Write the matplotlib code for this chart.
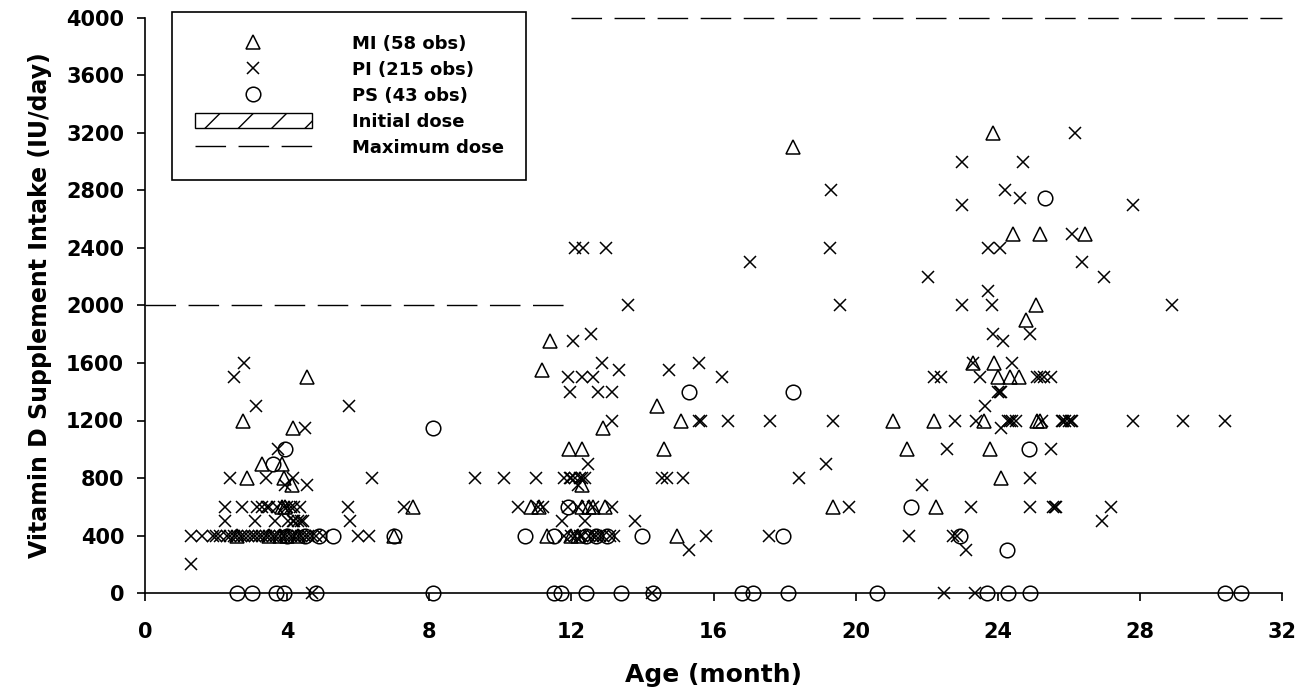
import matplotlib.pyplot as plt
from matplotlib.lines import Line2D
from matplotlib.patches import Patch

plt.rcParams['font.family'] = 'DejaVu Sans'
plt.rcParams['hatch.linewidth'] = 1.0

# MI (triangles)
mi_age = [2.76, 4.56, 4.17, 3.29, 3.86, 2.86, 3.9, 4.14, 3.86, 3.95, 7.54, 2.6, 3.5, 3.8, 4.0, 4.3, 7.0,
          11.4, 11.17, 11.93, 12.3, 14.6, 12.9, 14.4, 15.09, 10.85, 11.1, 12.3, 12.5, 12.6, 12.95, 12.3,
          11.3, 12.0, 12.2, 14.97,
          18.24, 19.37, 22.25, 21.05, 22.2, 23.6, 25.1, 25.2, 21.45, 23.78, 23.3, 23.9, 24.0, 24.35,
          24.6, 24.1, 23.87, 24.43, 25.2, 26.46, 25.08, 24.8]
mi_dose = [1200, 1500, 1150, 900, 900, 800, 800, 750, 600, 600, 600, 400, 400, 400, 400, 400, 400,
           1750, 1550, 1000, 1000, 1000, 1150, 1300, 1200, 600, 600, 600, 600, 600, 600, 750,
           400, 400, 400, 400,
           3100, 600, 600, 1200, 1200, 1200, 1200, 1200, 1000, 1000, 1600, 1600, 1500, 1500,
           1500, 800, 3200, 2500, 2500, 2500, 2000, 1900]

# PI (crosses)
pi_age = [1.3,
          1.3, 1.6, 1.9, 2.1, 2.3, 2.5, 2.7, 2.9, 3.1, 3.3, 3.5, 3.7, 3.9, 4.1, 4.3, 4.5, 4.7, 5.0, 6.0, 6.3,
          2.6, 3.0, 3.4, 3.8, 4.2, 4.6, 2.0, 2.4, 2.8, 3.2, 3.6, 4.0, 4.4, 4.8,
          2.25, 3.1, 3.66, 4.03, 4.17, 4.3, 4.45, 5.77, 4.2, 4.4,
          2.25, 2.73, 3.15, 3.3, 3.43, 3.72, 4.0, 4.1, 4.36, 5.7, 7.3, 3.9, 4.2, 3.5,
          3.94, 4.56, 2.4, 3.4, 4.17, 6.4, 3.74, 4.5, 3.12, 5.75, 2.5, 2.8, 4.7,
          9.3, 10.1, 11.0, 11.8, 11.96, 12.1, 12.24, 12.38, 14.55, 14.7, 15.14, 12.0, 12.3,
          12.2,
          10.5, 11.06, 11.2, 13.15, 12.2, 11.9, 12.6,
          11.73, 12.38, 13.8,
          11.8, 12.0, 12.1, 12.25, 12.5, 12.6, 12.9, 13.1, 13.2, 15.8, 12.3, 12.7, 12.8,
          15.3, 12.47, 13.14, 15.6, 15.65, 16.4, 11.96, 12.75, 13.14, 11.9, 12.3, 12.6, 16.24,
          13.34, 14.75, 12.86, 15.6, 12.05, 12.55, 13.6, 12.1, 12.33, 12.97, 14.27,
          17.03, 17.56, 17.6, 19.37, 18.4, 19.3, 19.28, 19.56, 19.17, 19.8,
          22.04, 21.5, 22.75, 22.85, 21.87, 22.57, 22.8, 23.4, 22.2, 22.4, 23.5,
          23.0, 23.84, 23.73, 23.0, 23.0, 23.64, 23.3, 23.73, 23.1, 23.25, 22.5, 23.36, 23.87,
          24.07, 24.2, 24.63, 24.7, 24.15, 24.9, 24.4, 25.1, 25.3, 25.5, 25.2, 24.0, 24.1, 24.05,
          24.3, 24.4, 24.5, 25.25, 25.8, 25.9, 26.0, 26.1, 27.8, 29.2, 30.4, 24.35, 25.85, 26.05,
          24.1, 25.5, 24.9, 24.9, 25.55, 25.65, 27.2, 25.6,
          26.93, 26.1, 26.37, 27.0, 28.9, 26.17, 27.8]
pi_dose = [200,
           400, 400, 400, 400, 400, 400, 400, 400, 400, 400, 400, 400, 400, 400, 400, 400, 400, 400, 400, 400,
           400, 400, 400, 400, 400, 400, 400, 400, 400, 400, 400, 400, 400, 400,
           500, 500, 500, 500, 500, 500, 500, 500, 500, 500,
           600, 600, 600, 600, 600, 600, 600, 600, 600, 600, 600, 600, 600, 600,
           750, 750, 800, 800, 800, 800, 1000, 1150, 1300, 1300, 1500, 1600, 0,
           800, 800, 800, 800, 800, 800, 800, 800, 800, 800, 800, 800, 800,
           750,
           600, 600, 600, 600, 600, 600, 600,
           500, 500, 500,
           400, 400, 400, 400, 400, 400, 400, 400, 400, 400, 400, 400, 400,
           300, 900, 1200, 1200, 1200, 1200, 1400, 1400, 1400, 1500, 1500, 1500, 1500,
           1550, 1550, 1600, 1600, 1750, 1800, 2000, 2400, 2400, 2400, 0,
           2300, 400, 1200, 1200, 800, 2800, 2400, 2000, 900, 600,
           2200, 400, 400, 400, 750, 1000, 1200, 1200, 1500, 1500, 1500,
           2000, 2000, 2100, 2700, 3000, 1300, 1600, 2400, 300, 600, 0, 0, 1800,
           2400, 2800, 2750, 3000, 1750, 1800, 1600, 1500, 1500, 1500, 1500, 1400, 1400, 1400,
           1200, 1200, 1200, 1200, 1200, 1200, 1200, 1200, 1200, 1200, 1200, 1200, 1200, 1200,
           1150, 1000, 800, 600, 600, 600, 600, 600,
           500, 2500, 2300, 2200, 2000, 3200, 2700]

# PS (circles)
ps_age = [2.6, 3.0, 3.7, 3.9, 4.8, 8.1, 11.5, 11.7, 12.4, 13.4, 14.3, 16.8, 17.1, 18.1, 20.6,
          23.7, 24.3, 24.9, 30.4, 30.85,
          3.6, 3.95, 8.1, 10.7, 11.5, 12.4, 12.7, 13.0, 14.0, 11.9, 15.3, 18.24, 17.96, 21.56,
          22.94, 24.26, 24.88, 25.33,
          4.0, 4.5, 4.9, 5.3, 7.0]
ps_dose = [0, 0, 0, 0, 0, 0, 0, 0, 0, 0, 0, 0, 0, 0, 0,
           0, 0, 0, 0, 0,
           900, 1000, 1150, 400, 400, 400, 400, 400, 400, 600, 1400, 1400, 400, 600,
           400, 300, 1000, 2750,
           400, 400, 400, 400, 400]

# maximum dose (two age bands)
max_age_1 = [0, 12]
max_dose_1 = [2000, 2000]
max_age_2 = [12, 32]
max_dose_2 = [4000, 4000]

x_ticks = [0, 4, 8, 12, 16, 20, 24, 28, 32]
y_ticks = [0, 400, 800, 1200, 1600, 2000, 2400, 2800, 3200, 3600, 4000]

labels = ['MI (58 obs)', 'PI (215 obs)', 'PS (43 obs)', 'Initial dose', 'Maximum dose']

fig = plt.figure(figsize=(13.04, 6.95), dpi=100)
ax = fig.add_axes([145 / 1304, 102 / 695, 1137 / 1304, 575 / 695])

ax.plot(mi_age, mi_dose, linestyle='none', marker='^', ms=10, mfc='none', mec='black', mew=1.1, clip_on=False)
ax.plot(pi_age, pi_dose, linestyle='none', marker='x', ms=9, mec='black', mew=1.1, clip_on=False)
ax.plot(ps_age, ps_dose, linestyle='none', marker='o', ms=10.5, mfc='none', mec='black', mew=1.1, clip_on=False)

ax.plot(max_age_1, max_dose_1, color='black', lw=1.0, dashes=(22, 9), clip_on=False)
ax.plot(max_age_2, max_dose_2, color='black', lw=1.0, dashes=(22, 9), clip_on=False)

ax.set_xlim(0, 32)
ax.set_ylim(0, 4000)
ax.set_xticks(x_ticks)
ax.set_yticks(y_ticks)
ax.spines['top'].set_visible(False)
ax.spines['right'].set_visible(False)
ax.spines['left'].set_linewidth(1.2)
ax.spines['bottom'].set_linewidth(1.2)
ax.tick_params(direction='out', length=6, width=1.2, labelsize=15)
ax.tick_params(axis='x', pad=15)
ax.tick_params(axis='y', pad=9)
for lab in ax.get_xticklabels() + ax.get_yticklabels():
    lab.set_fontweight('bold')

ax.set_xlabel('Age (month)', fontsize=18, fontweight='bold', labelpad=15)
ax.set_ylabel('Vitamin D Supplement Intake (IU/day)', fontsize=17, fontweight='bold', labelpad=10)

handles = [
    Line2D([], [], linestyle='none', marker='^', ms=10, mfc='none', mec='black', mew=1.1),
    Line2D([], [], linestyle='none', marker='x', ms=9, mec='black', mew=1.1),
    Line2D([], [], linestyle='none', marker='o', ms=10.5, mfc='none', mec='black', mew=1.1),
    Patch(facecolor='white', edgecolor='black', hatch='/', lw=1.0),
    Line2D([], [], color='black', lw=1.0, dashes=(22, 9)),
]
leg = ax.legend(handles, labels, loc='upper left', bbox_to_anchor=(172 / 1304, 1 - 12 / 695),
                bbox_transform=fig.transFigure, borderaxespad=0, frameon=True, fancybox=False,
                edgecolor='black', framealpha=1, handlelength=6.5, handleheight=0.9,
                handletextpad=2.2, labelspacing=0.45, borderpad=1.25,
                prop={'weight': 'bold', 'size': 13})
leg.get_frame().set_linewidth(1.2)

fig.savefig('out.png', dpi=100)
